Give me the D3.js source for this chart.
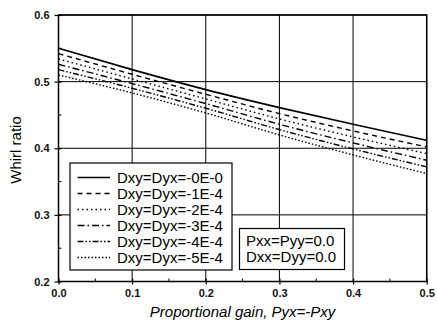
<!DOCTYPE html>
<html><head><meta charset="utf-8">
<script src="https://cdn.jsdelivr.net/npm/d3@7"></script>
<style>body{margin:0;background:#fff}svg{display:block;font-family:Arial,"Liberation Sans",sans-serif}</style>
</head><body><svg id="c" width="437" height="326"></svg>
<script>
const xValues = [0.0, 0.1, 0.2, 0.3, 0.4, 0.5];
const seriesNames = ["Dxy=Dyx=-0E-0","Dxy=Dyx=-1E-4","Dxy=Dyx=-2E-4","Dxy=Dyx=-3E-4","Dxy=Dyx=-4E-4","Dxy=Dyx=-5E-4"];
const s0 = [0.550, 0.518, 0.488, 0.461, 0.436, 0.412];
const s1 = [0.542, 0.511, 0.481, 0.452, 0.426, 0.402];
const s2 = [0.534, 0.504, 0.474, 0.444, 0.417, 0.392];
const s3 = [0.526, 0.497, 0.467, 0.436, 0.408, 0.382];
const s4 = [0.518, 0.490, 0.460, 0.428, 0.399, 0.372];
const s5 = [0.510, 0.483, 0.453, 0.420, 0.390, 0.362];
const xTicks = ["0.0","0.1","0.2","0.3","0.4","0.5"];
const yTicks = ["0.2","0.3","0.4","0.5","0.6"];
const noteLines = ["Pxx=Pyy=0.0","Dxx=Dyy=0.0"];
const xTitle = "Proportional gain, Pyx=-Pxy";
const yTitle = "Whirl ratio";

const series = [s0,s1,s2,s3,s4,s5];
const dashes = [null, "5,4", "1.5,3", "7,3,1.5,3", "6,2,1.5,2,1.5,2", "1.5,2"];

const svg = d3.select("#c");
const L = 58.5, R = 426.7, T = 15, B = 281.5;
const x = d3.scaleLinear().domain([0,0.5]).range([L,R]);
const y = d3.scaleLinear().domain([0.2,0.6]).range([B,T]);

// grid
const g = svg.append("g");
g.selectAll(".gx").data(xTicks.map(Number)).enter().append("line")
  .attr("x1",d=>x(d)).attr("x2",d=>x(d)).attr("y1",T).attr("y2",B)
  .attr("stroke","#000").attr("stroke-width",1);
g.selectAll(".gy").data(yTicks.map(Number)).enter().append("line")
  .attr("x1",L).attr("x2",R).attr("y1",d=>y(d)).attr("y2",d=>y(d))
  .attr("stroke","#000").attr("stroke-width",1);

// axes
const xAxis = d3.axisBottom(x).tickValues(xTicks.map(Number)).tickFormat(d3.format(".1f")).tickSizeInner(4).tickSizeOuter(0);
const ax = svg.append("g").attr("transform",`translate(0,${B})`).call(xAxis);
ax.select(".domain").remove();
ax.selectAll(".tick line").attr("y1",-3).attr("y2",3).attr("stroke-width",1.2);
ax.selectAll(".tick text").attr("y",8).attr("font-size",11).attr("font-family","Arial").attr("font-weight","bold").attr("fill","#111");

const yAxis = d3.axisLeft(y).tickValues(yTicks.map(Number)).tickFormat(d3.format(".1f")).tickSizeInner(4).tickSizeOuter(0);
const ay = svg.append("g").attr("transform",`translate(${L},0)`).call(yAxis);
ay.select(".domain").remove();
ay.selectAll(".tick line").attr("x1",-4).attr("x2",3).attr("stroke-width",1.2);
ay.selectAll(".tick text").attr("x",-9).attr("font-size",11).attr("font-family","Arial").attr("font-weight","bold").attr("fill","#111");

// minor ticks
svg.selectAll(".mx").data(d3.range(0.05,0.5,0.1)).enter().append("line")
  .attr("x1",d=>x(d)).attr("x2",d=>x(d)).attr("y1",B).attr("y2",B-3).attr("stroke","#000");
svg.selectAll(".my").data(d3.range(0.25,0.6,0.1)).enter().append("line")
  .attr("x1",L).attr("x2",L+3).attr("y1",d=>y(d)).attr("y2",d=>y(d)).attr("stroke","#000");

// frame
svg.append("rect").attr("x",L).attr("y",T).attr("width",R-L).attr("height",B-T)
  .attr("fill","none").attr("stroke","#000").attr("stroke-width",1.5);

// lines
const line = d3.line().x((d,i)=>x(xValues[i])).y(d=>y(d)).curve(d3.curveMonotoneX);
series.forEach((s,k)=>{
  svg.append("path").attr("d",line(s)).attr("fill","none").attr("stroke","#000")
    .attr("stroke-width",k===0?1.6:1.4).attr("stroke-dasharray",dashes[k]);
});

// legend
const lg = svg.append("g");
lg.append("rect").attr("x",70).attr("y",163).attr("width",162).attr("height",107)
  .attr("fill","#fff").attr("stroke","#000").attr("stroke-width",1.2);
seriesNames.forEach((n,k)=>{
  const cy = 177.5 + k*16;
  lg.append("line").attr("x1",77.5).attr("x2",110).attr("y1",cy).attr("y2",cy)
    .attr("stroke","#000").attr("stroke-width",k===0?1.6:1.4).attr("stroke-dasharray",dashes[k]);
  lg.append("text").attr("x",117).attr("y",cy+5).attr("font-size",15).attr("fill","#000").text(n);
});

// note box
const nb = svg.append("g");
nb.append("rect").attr("x",239.5).attr("y",228.5).attr("width",105).attr("height",41)
  .attr("fill","#fff").attr("stroke","#000").attr("stroke-width",1.2);
noteLines.forEach((t,i)=>{
  nb.append("text").attr("x",246).attr("y",246+i*15.5).attr("font-size",15).attr("fill","#000").text(t);
});

// titles
svg.append("text").attr("x",(L+R)/2+0).attr("y",317).attr("text-anchor","middle")
  .attr("font-size",15).attr("font-style","italic").attr("fill","#000").text(xTitle);
svg.append("text").attr("transform","translate(21,150) rotate(-90)").attr("text-anchor","middle")
  .attr("font-size",15).attr("fill","#000").text(yTitle);
</script></body></html>
